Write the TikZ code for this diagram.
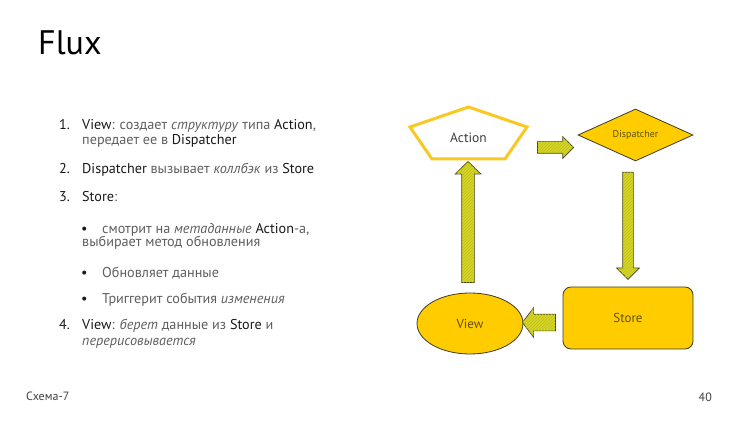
\documentclass[tikz,border=0pt]{standalone}
\usepackage{fontspec}
\setmainfont{PT Sans}
\usetikzlibrary{shapes.geometric, shapes.arrows, calc, patterns}
\definecolor{gold}{RGB}{255,204,0}
\definecolor{goldline}{RGB}{250,200,35}
\definecolor{lime}{RGB}{214,214,32}
\definecolor{hatch}{RGB}{190,190,40}
\definecolor{edge}{RGB}{60,60,40}
\definecolor{bodygray}{RGB}{95,95,95}
\definecolor{labelbrown}{RGB}{95,82,10}
\newcommand{\nm}[1]{{\color{black!90}#1}}

\begin{document}
\begin{tikzpicture}[
    x=1pt, y=-1pt,
    line/.style={anchor=base west, inner sep=0, font=\fontsize{14.2}{16}\selectfont, text=bodygray},
    num/.style={anchor=base west, inner sep=0, font=\fontsize{14.2}{16}\selectfont, text=black!90},
    block/.style={draw=edge, line width=0.8pt, fill=gold, font=\fontsize{13}{15}\selectfont, text=labelbrown},
    blockarr/.style={single arrow, draw=edge, line width=0.7pt, fill=lime, inner xsep=0, postaction={pattern=north east lines, pattern color=hatch}}
]
\useasboundingbox (0,0) rectangle (750,422);
\fill[white] (0,0) rectangle (750,422);

% Title
\node[anchor=base west, inner sep=0, font=\fontsize{34}{40}\selectfont] (title) at (38,55) {Flux};

% Steps
\node[num] (n1) at (59,130) {1.};
\node[line] (t1a) at (82,130) {\nm{View}: создает \textit{структуру} типа \nm{Action},};
\node[line] (t1b) at (82,145) {передает ее в \nm{Dispatcher}};
\node[num] (n2) at (59,174) {2.};
\node[line] (t2) at (82,174) {\nm{Dispatcher} вызывает \textit{коллбэк} из \nm{Store}};
\node[num] (n3) at (59,202) {3.};
\node[line] (t3) at (82,202) {\nm{Store}:};
\node[num] (b1) at (81,234) {\textbullet};
\node[line] (t3a) at (102,234) {смотрит на \textit{метаданные} \nm{Action}-а,};
\node[line] (t3b) at (82,247) {выбирает метод обновления};
\node[num] (b2) at (81,277) {\textbullet};
\node[line] (t3c) at (102,277) {Обновляет данные};
\node[num] (b3) at (81,303) {\textbullet};
\node[line] (t3d) at (102,303) {Триггерит события \textit{изменения}};
\node[num] (n4) at (59,330) {4.};
\node[line] (t4a) at (82,330) {\nm{View}: \textit{берет} данные из \nm{Store} и};
\node[line] (t4b) at (82,345) {\textit{перерисовывается}};

% Flux cycle
\node[font=\fontsize{13.5}{15}\selectfont, text=black!75, inner sep=0] (action) at (468.5,138) {Action};
\draw[goldline, line width=3pt, line join=miter]
    ($(action)+(0,-31)$) -- ($(action)+(-58.5,-11)$) -- ($(action)+(-36.5,21)$)
    -- ($(action)+(36.5,21)$) -- ($(action)+(58.5,-11)$) -- cycle;
\node[block, diamond, aspect=2.2, minimum width=115, minimum height=52, inner sep=0,
    font=\fontsize{10}{12}\selectfont] (disp) at (635.5,135) {Dispatcher};
\node[block, rectangle, rounded corners=8, minimum width=130, minimum height=62] (store) at (628,318) {Store};
\node[block, ellipse, minimum width=106, minimum height=61, inner sep=0] (view) at (470,323.5) {View};

% Block arrows between the stages
\node[blockarr, minimum height=36, inner ysep=5.5, single arrow head extend=5, single arrow tip angle=90]
    (a1) at ($(disp.west)+(-25,12.5)$) {};
\node[blockarr, rotate=-90, minimum height=107, inner ysep=5, single arrow head extend=6, single arrow tip angle=90]
    (a2) at ($(store.north)+(0,-63.5)$) {};
\node[blockarr, rotate=180, minimum height=33, inner ysep=8, single arrow head extend=6.5, single arrow tip angle=106]
    (a3) at ($(store.west)+(-20.5,4.5)$) {};
\node[blockarr, rotate=90, minimum height=121, inner ysep=6, single arrow head extend=6.5, single arrow tip angle=92]
    (a4) at ($(view.north)+(-2,-67.5)$) {};

% Footer
\node[anchor=base west, inner sep=0, font=\fontsize{12}{14}\selectfont, text=black!75] (foot) at (26,400) {Схема-7};
\node[anchor=base east, inner sep=0, font=\fontsize{12}{14}\selectfont, text=black!75] (page) at (712,401) {40};
\end{tikzpicture}
\end{document}
